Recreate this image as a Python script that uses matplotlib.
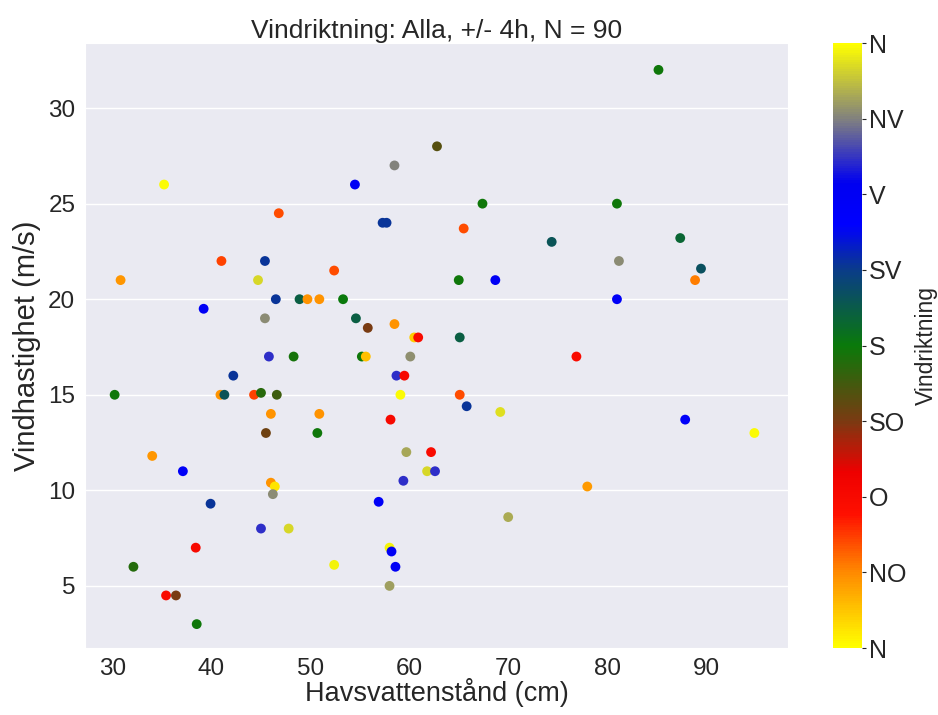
import matplotlib.pyplot as plt
import seaborn as sns
from matplotlib.colors import LinearSegmentedColormap

sns.set_style("darkgrid")
plt.rcParams['font.family'] = ['Liberation Sans', 'DejaVu Sans']

# Havsvattenstånd (cm), vindhastighet (m/s), vindriktning (grader)
havsvatten = [35.2, 54.5, 58.5, 62.8, 46.8, 57.3, 57.7, 41.0, 45.4, 30.8,
              44.7, 52.4, 46.5, 48.9, 49.7, 50.9, 53.3, 39.2, 45.4, 54.6,
              55.8, 58.5, 60.5, 60.9, 45.8, 48.3, 55.2, 55.6, 60.1, 42.2,
              58.7, 59.5, 30.2, 40.9, 41.3, 44.3, 45.0, 46.6, 59.1, 46.0,
              50.9, 58.1, 45.5, 50.7, 59.7, 62.2, 34.0, 37.1, 61.8, 62.6,
              46.0, 46.4, 46.2, 59.4, 39.9, 56.9, 45.0, 47.8, 38.4, 58.0,
              58.2, 32.1, 52.4, 58.6, 35.4, 36.4, 58.0, 38.5, 85.2, 67.4,
              81.0, 65.5, 74.4, 87.4, 81.2, 89.5, 88.9, 65.0, 68.7, 81.0,
              65.1, 76.9, 65.1, 65.8, 69.2, 87.9, 94.9, 78.0, 70.0]
vindhastighet = [26.0, 26.0, 27.0, 28.0, 24.5, 24.0, 24.0, 22.0, 22.0, 21.0,
                 21.0, 21.5, 20.0, 20.0, 20.0, 20.0, 20.0, 19.5, 19.0, 19.0,
                 18.5, 18.7, 18.0, 18.0, 17.0, 17.0, 17.0, 17.0, 17.0, 16.0,
                 16.0, 16.0, 15.0, 15.0, 15.0, 15.0, 15.1, 15.0, 15.0, 14.0,
                 14.0, 13.7, 13.0, 13.0, 12.0, 12.0, 11.8, 11.0, 11.0, 11.0,
                 10.4, 10.2, 9.8, 10.5, 9.3, 9.4, 8.0, 8.0, 7.0, 7.0,
                 6.8, 6.0, 6.1, 6.0, 4.5, 4.5, 5.0, 3.0, 32.0, 25.0,
                 25.0, 23.7, 23.0, 23.2, 22.0, 21.6, 21.0, 21.0, 21.0, 20.0,
                 18.0, 17.0, 15.0, 14.4, 14.1, 13.7, 13.0, 10.2, 8.6]
vindriktning = [358, 268, 315, 150, 62, 228, 228, 65, 228, 40,
                345, 62, 228, 200, 42, 42, 180, 268, 318, 200,
                135, 42, 20, 88, 290, 175, 178, 25, 320, 228,
                290, 90, 178, 42, 208, 65, 168, 160, 358, 42,
                42, 90, 140, 178, 328, 88, 40, 265, 345, 290,
                42, 10, 318, 290, 228, 265, 290, 345, 90, 355,
                268, 170, 355, 268, 88, 135, 325, 178, 178, 178,
                178, 62, 208, 195, 318, 210, 48, 178, 268, 265,
                200, 88, 62, 228, 348, 262, 358, 38, 330]

riktning_etiketter = ['N', 'NO', 'O', 'SO', 'S', 'SV', 'V', 'NV', 'N']
riktning_grader = [0, 45, 90, 135, 180, 225, 270, 315, 360]

# Färgskala runt kompassen
cmap = LinearSegmentedColormap.from_list("vind", [
    (0.0, "#ffff00"), (0.125, "#ff8800"), (0.22, "#ff1000"), (0.29, "#ee0000"),
    (0.375, "#7a3a12"), (0.5, "#0a7a0a"), (0.625, "#0a3c88"), (0.70, "#0000ff"),
    (0.77, "#0000f0"), (0.875, "#808080"), (1.0, "#ffff00")])

fig = plt.figure(figsize=(9.38, 7.15), dpi=100)
ax = fig.add_axes([0.0906, 0.0937, 0.7495, 0.846])
cax = fig.add_axes([0.888, 0.0937, 0.031, 0.846])

sc = ax.scatter(havsvatten, vindhastighet, c=vindriktning, cmap=cmap,
                vmin=0, vmax=360, s=50, linewidths=0)

ax.set_xlim(27.2, 98.3)
ax.set_ylim(1.75, 33.4)
ax.grid(False, axis="x")
ax.grid(True, axis="y", color="white", linewidth=1)
ax.set_xticks([30, 40, 50, 60, 70, 80, 90])
ax.set_yticks([5, 10, 15, 20, 25, 30])
ax.tick_params(labelsize=17.5)
ax.set_xlabel("Havsvattenstånd (cm)", fontsize=19.5, labelpad=-1)
ax.set_ylabel("Vindhastighet (m/s)", fontsize=21, labelpad=5)
ax.set_title("Vindriktning: Alla, +/- 4h, N = 90", fontsize=19, pad=4)

cb = fig.colorbar(sc, cax=cax, ticks=riktning_grader)
cb.set_ticklabels(riktning_etiketter)
cb.outline.set_visible(False)
cb.ax.tick_params(labelsize=18, length=3, width=0.8, pad=2)
cb.set_label("Vindriktning", fontsize=16.5, labelpad=6)

fig.savefig("out.png", dpi=100)
